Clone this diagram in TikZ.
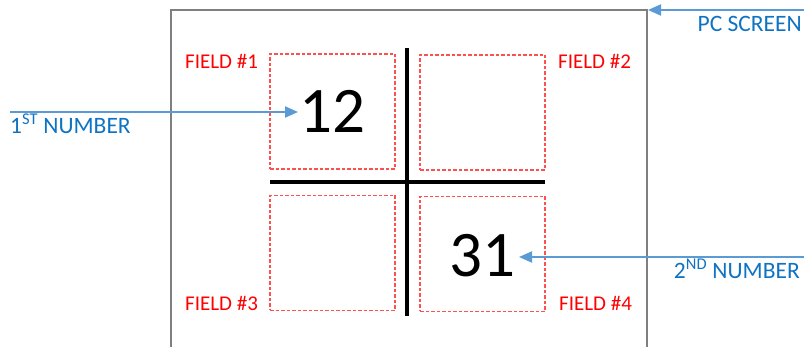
\documentclass[tikz,border=0pt]{standalone}
\usepackage{fontspec}
\setmainfont{Carlito}
\usetikzlibrary{arrows.meta}
\definecolor{screengray}{HTML}{7F7F7F}
\definecolor{fieldred}{HTML}{FF5050}
\definecolor{labelred}{HTML}{FF0000}
\definecolor{arrowblue}{HTML}{5B9BD5}
\definecolor{textblue}{HTML}{0F73C3}
\tikzset{
  fieldbox/.style={draw=fieldred, line width=1.3pt, dash pattern=on 3.5pt off 2pt, minimum width=125pt, minimum height=115pt, inner sep=0pt},
  fieldlabel/.style={text=labelred, font=\fontsize{21}{25}\selectfont, inner sep=0pt},
  bluelabel/.style={text=textblue, font=\fontsize{23.5}{28}\selectfont, inner sep=0pt},
  bignum/.style={text=black, font=\fontsize{65}{72}\selectfont, inner sep=0pt},
  pointer/.style={draw=arrowblue, line width=2pt, -{Triangle[length=13pt,width=11pt]}},
  cross/.style={draw=black, line width=4pt},
}
\begin{document}
\begin{tikzpicture}[x=1pt,y=-1pt]
\useasboundingbox (0,0) rectangle (804,347);
% screen
\draw[screengray, line width=1.2pt] (171,347) -- (171,10) -- (647,10) -- (647,347);
% fields
\node[fieldbox] (f1) at (332.5,111.5) {};
\node[fieldbox] (f2) at (482.5,112.5) {};
\node[fieldbox] (f3) at (332.5,253) {};
\node[fieldbox] (f4) at (482.5,254) {};
% cross
\coordinate (vt) at (407,48);
\coordinate (vb) at (407,316);
\coordinate (hl) at (270,182);
\coordinate (hr) at (545,182);
\draw[cross] (vt) -- (vb);
\draw[cross] (hl) -- (hr);
% field labels
\node[fieldlabel, anchor=base west] (l1) at (185,69) {FIELD \#1};
\node[fieldlabel, anchor=base west] (l2) at (558,69) {FIELD \#2};
\node[fieldlabel, anchor=base west] (l3) at (185,311) {FIELD \#3};
\node[fieldlabel, anchor=base west] (l4) at (559,311) {FIELD \#4};
% numbers
\node[bignum, anchor=base] (n1) at (332,133) {12};
\node[bignum, anchor=base] (n2) at (482,277) {31};
% blue labels
\node[bluelabel, anchor=base east] (pc) at (802,32) {PC SCREEN};
\node[bluelabel, anchor=base west] (first) at (10,134) {1\textsuperscript{ST} NUMBER};
\node[bluelabel, anchor=base east] (second) at (800,279) {2\textsuperscript{ND} NUMBER};
% arrows
\coordinate (pcs) at (804,10);
\coordinate (pce) at (648,10);
\coordinate (a1s) at (10,112);
\coordinate (a1e) at (298,112);
\coordinate (a2s) at (804,257);
\coordinate (a2e) at (519,257);
\draw[pointer] (pcs) -- (pce);
\draw[pointer] (a1s) -- (a1e);
\draw[pointer] (a2s) -- (a2e);
\end{tikzpicture}
\end{document}
